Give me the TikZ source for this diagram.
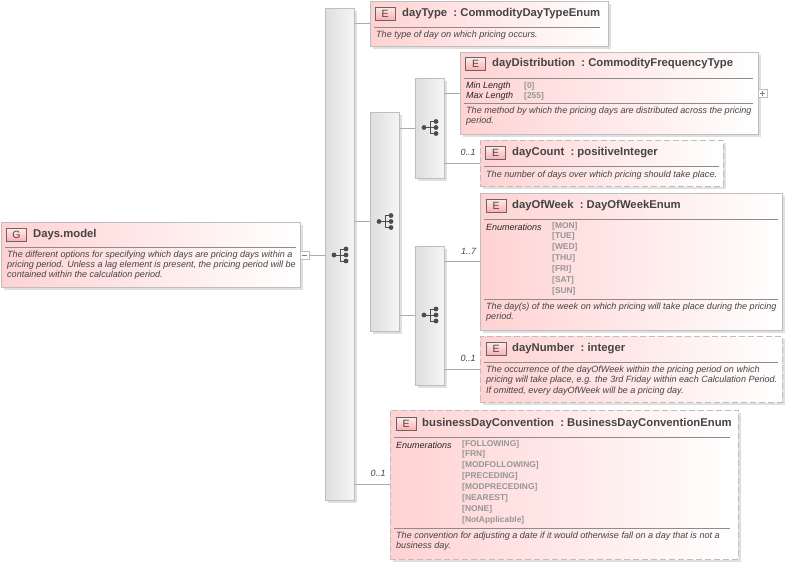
\documentclass[tikz,border=0pt]{standalone}
\usepackage{fontspec}
\setmainfont{Liberation Sans}
\usetikzlibrary{shadows}
\definecolor{boxpink}{HTML}{FFD2D2}
\definecolor{boxline}{HTML}{BEBEBE}
\definecolor{seqgray}{HTML}{DEDEDE}
\definecolor{wireline}{HTML}{ABABAB}
\definecolor{enumgray}{HTML}{969696}
\definecolor{textdark}{HTML}{444444}
\tikzset{
  boxshadow/.style={drop shadow={shadow xshift=3pt,shadow yshift=-3pt,fill=black,opacity=0.12}},
  elembox/.style={rectangle,draw=boxline,line width=1pt,left color=boxpink,right color=white,inner sep=0pt,boxshadow},
  optbox/.style={elembox,dashed,dash pattern=on 6pt off 3pt},
  seqbox/.style={rectangle,draw=boxline,line width=1pt,left color=seqgray,right color=white!96!black,inner sep=0pt,minimum width=29pt,boxshadow},
  tagbox/.style={rectangle,draw=black!60,line width=0.6pt,top color=white!92!red,bottom color=red!32!white,minimum width=20pt,minimum height=13pt,inner sep=0pt,text=textdark,font=\fontsize{10.5}{11}\selectfont},
  togglebox/.style={rectangle,draw=boxline,fill=white,line width=0.6pt,minimum width=9pt,minimum height=8pt,inner sep=0pt},
  titletext/.style={anchor=west,inner sep=0pt,text=textdark,font=\fontsize{11.3}{13}\selectfont\bfseries},
  desctext/.style={anchor=west,inner sep=0pt,text=textdark,font=\fontsize{9.05}{11}\selectfont\itshape},
  proptext/.style={anchor=west,inner sep=0pt,text=black!85,font=\fontsize{9}{11}\selectfont\itshape},
  enumtext/.style={anchor=west,inner sep=0pt,text=enumgray,font=\fontsize{8.4}{10}\selectfont\bfseries},
  cardtext/.style={inner sep=0pt,text=textdark,font=\fontsize{9}{11}\selectfont\itshape},
  wire/.style={draw=wireline,line width=0.8pt},
  rule/.style={draw=black!45,line width=0.7pt},
  seqicon/.pic={
    \draw[black!70,line width=0.9pt] (-6,0) -- (0,0) (6,-6) -- (0,-6) -- (0,6) -- (6,6) (0,0) -- (6,0);
    \fill[black!70] (-6,0) circle (2.4pt) (6,-6) circle (2.4pt) (6,0) circle (2.4pt) (6,6) circle (2.4pt);
  }
}
\begin{document}
\begin{tikzpicture}[x=1pt,y=-1pt]
    \useasboundingbox (0,0) rectangle (786,565);

    % compositor bars
    \node[seqbox,minimum height=492pt] (seqMain) at (339.5,254) {};
    \node[seqbox,minimum height=219pt] (seqDays) at (384.5,221.5) {};
    \node[seqbox,minimum height=100pt] (seqDist) at (429.5,128) {};
    \node[seqbox,minimum height=139pt] (seqWeek) at (429.5,315.5) {};
    \pic at (340,255) {seqicon};
    \pic at (385,221.5) {seqicon};
    \pic at (430,127.5) {seqicon};
    \pic at (430,315) {seqicon};

    % group
    \node[elembox,minimum width=299pt,minimum height=65pt] (model) at (150.5,254.5) {};
    \node[tagbox] (modelTag) at (16.5,235) {G};
    \node[titletext] (modelTitle) at (33,234.5) {Days.model};
    \draw[rule] (5,247) -- (296,247);
    \node[desctext] (modelDescA) at (7,255) {The different options for specifying which days are pricing days within a};
    \node[desctext] (modelDescB) at (7,265) {pricing period. Unless a lag element is present, the pricing period will be};
    \node[desctext] (modelDescC) at (7,275.5) {contained within the calculation period.};
    \node[togglebox] (modelToggle) at (304.5,255) {};
    \draw[black!50,line width=0.5pt] (302,255) -- (307,255);

    % dayType
    \node[elembox,minimum width=238pt,minimum height=45pt] (dayType) at (489,23.5) {};
    \node[tagbox] (dayTypeTag) at (385,13.5) {E};
    \node[titletext] (dayTypeTitle) at (402,13.5) {dayType\ \ :\ CommodityDayTypeEnum};
    \draw[rule] (374,27) -- (600,27);
    \node[desctext] (dayTypeDesc) at (376,35) {The type of day on which pricing occurs.};

    % dayDistribution
    \node[elembox,minimum width=298pt,minimum height=82pt] (dayDist) at (609,93) {};
    \node[tagbox] (dayDistTag) at (475.5,64) {E};
    \node[titletext] (dayDistTitle) at (492,64) {dayDistribution\ \ :\ CommodityFrequencyType};
    \draw[rule] (464,78) -- (753,78);
    \node[proptext] (dayDistMin) at (466,86) {Min Length};
    \node[proptext] (dayDistMax) at (466,96) {Max Length};
    \node[enumtext] (dayDistMinVal) at (524,86) {[0]};
    \node[enumtext] (dayDistMaxVal) at (524,96) {[255]};
    \draw[rule] (464,103) -- (753,103);
    \node[desctext] (dayDistDescA) at (466,111) {The method by which the pricing days are distributed across the pricing};
    \node[desctext] (dayDistDescB) at (466,121) {period.};
    \node[togglebox] (dayDistToggle) at (762.5,93) {};
    \draw[black!50,line width=0.5pt] (760,93) -- (765,93) (762.5,90.5) -- (762.5,95.5);

    % dayCount
    \node[optbox,minimum width=243pt,minimum height=46pt] (dayCount) at (601.5,163) {};
    \node[tagbox] (dayCountTag) at (495.5,153) {E};
    \node[titletext] (dayCountTitle) at (512,152.5) {dayCount\ \ :\ positiveInteger};
    \draw[rule] (484,166) -- (719,166);
    \node[desctext] (dayCountDesc) at (486,175) {The number of days over which pricing should take place.};

    % dayOfWeek
    \node[elembox,minimum width=302pt,minimum height=137pt] (dayOfWeek) at (631,261.5) {};
    \node[tagbox] (dayOfWeekTag) at (496,205.5) {E};
    \node[titletext] (dayOfWeekTitle) at (512,205.5) {dayOfWeek\ \ :\ DayOfWeekEnum};
    \draw[rule] (484,219) -- (778,219);
    \node[proptext] (dayOfWeekEnums) at (486,227) {Enumerations};
    \node[enumtext] (weekMon) at (552,226) {[MON]};
    \node[enumtext] (weekTue) at (552,236.5) {[TUE]};
    \node[enumtext] (weekWed) at (552,247.5) {[WED]};
    \node[enumtext] (weekThu) at (552,258.5) {[THU]};
    \node[enumtext] (weekFri) at (552,269.5) {[FRI]};
    \node[enumtext] (weekSat) at (552,280.5) {[SAT]};
    \node[enumtext] (weekSun) at (552,291.5) {[SUN]};
    \draw[rule] (484,299) -- (778,299);
    \node[desctext] (dayOfWeekDescA) at (486,307) {The day(s) of the week on which pricing will take place during the pricing};
    \node[desctext] (dayOfWeekDescB) at (486,317) {period.};

    % dayNumber
    \node[optbox,minimum width=302pt,minimum height=66pt] (dayNumber) at (631,369) {};
    \node[tagbox] (dayNumberTag) at (496,348.5) {E};
    \node[titletext] (dayNumberTitle) at (512,348.5) {dayNumber\ \ :\ integer};
    \draw[rule] (484,362) -- (778,362);
    \node[desctext] (dayNumberDescA) at (486,370.5) {The occurrence of the dayOfWeek within the pricing period on which};
    \node[desctext] (dayNumberDescB) at (486,380.5) {pricing will take place, e.g. the 3rd Friday within each Calculation Period.};
    \node[desctext] (dayNumberDescC) at (486,391) {If omitted, every dayOfWeek will be a pricing day.};

    % businessDayConvention
    \node[optbox,minimum width=348pt,minimum height=149pt] (business) at (564,484.5) {};
    \node[tagbox] (businessTag) at (406,424) {E};
    \node[titletext] (businessTitle) at (422,423.5) {businessDayConvention\ \ :\ BusinessDayConventionEnum};
    \draw[rule] (394,437) -- (730,437);
    \node[proptext] (businessEnums) at (396,445) {Enumerations};
    \node[enumtext] (convFollowing) at (462,444) {[FOLLOWING]};
    \node[enumtext] (convFrn) at (462,454.5) {[FRN]};
    \node[enumtext] (convModFollowing) at (462,465) {[MODFOLLOWING]};
    \node[enumtext] (convPreceding) at (462,476) {[PRECEDING]};
    \node[enumtext] (convModPreceding) at (462,487) {[MODPRECEDING]};
    \node[enumtext] (convNearest) at (462,498) {[NEAREST]};
    \node[enumtext] (convNone) at (462,509) {[NONE]};
    \node[enumtext] (convNotApplicable) at (462,520) {[NotApplicable]};
    \draw[rule] (394,528) -- (730,528);
    \node[desctext] (businessDescA) at (396,536) {The convention for adjusting a date if it would otherwise fall on a day that is not a};
    \node[desctext] (businessDescB) at (396,546) {business day.};

    % connectors
    \draw[wire] (modelToggle.east) -- (seqMain.west |- modelToggle.east);
    \draw[wire] (seqMain.east |- dayType.west) -- (dayType.west);
    \draw[wire] (seqMain.east |- seqDays.west) -- (seqDays.west);
    \draw[wire] (seqMain.east |- business.west) -- (business.west);
    \draw[wire] (seqDays.east |- seqDist.west) -- (seqDist.west);
    \draw[wire] (seqDays.east |- seqWeek.west) -- (seqWeek.west);
    \draw[wire] (seqDist.east |- dayDist.west) -- (dayDist.west);
    \draw[wire] (seqDist.east |- dayCount.west) -- (dayCount.west);
    \draw[wire] (seqWeek.east |- dayOfWeek.west) -- (dayOfWeek.west);
    \draw[wire] (seqWeek.east |- dayNumber.west) -- (dayNumber.west);

    % cardinalities
    \node[cardtext] (cardCount) at (468,152) {0..1};
    \node[cardtext] (cardWeek) at (468.5,251) {1..7};
    \node[cardtext] (cardNumber) at (468,358) {0..1};
    \node[cardtext] (cardBusiness) at (378,473.5) {0..1};
\end{tikzpicture}
\end{document}
